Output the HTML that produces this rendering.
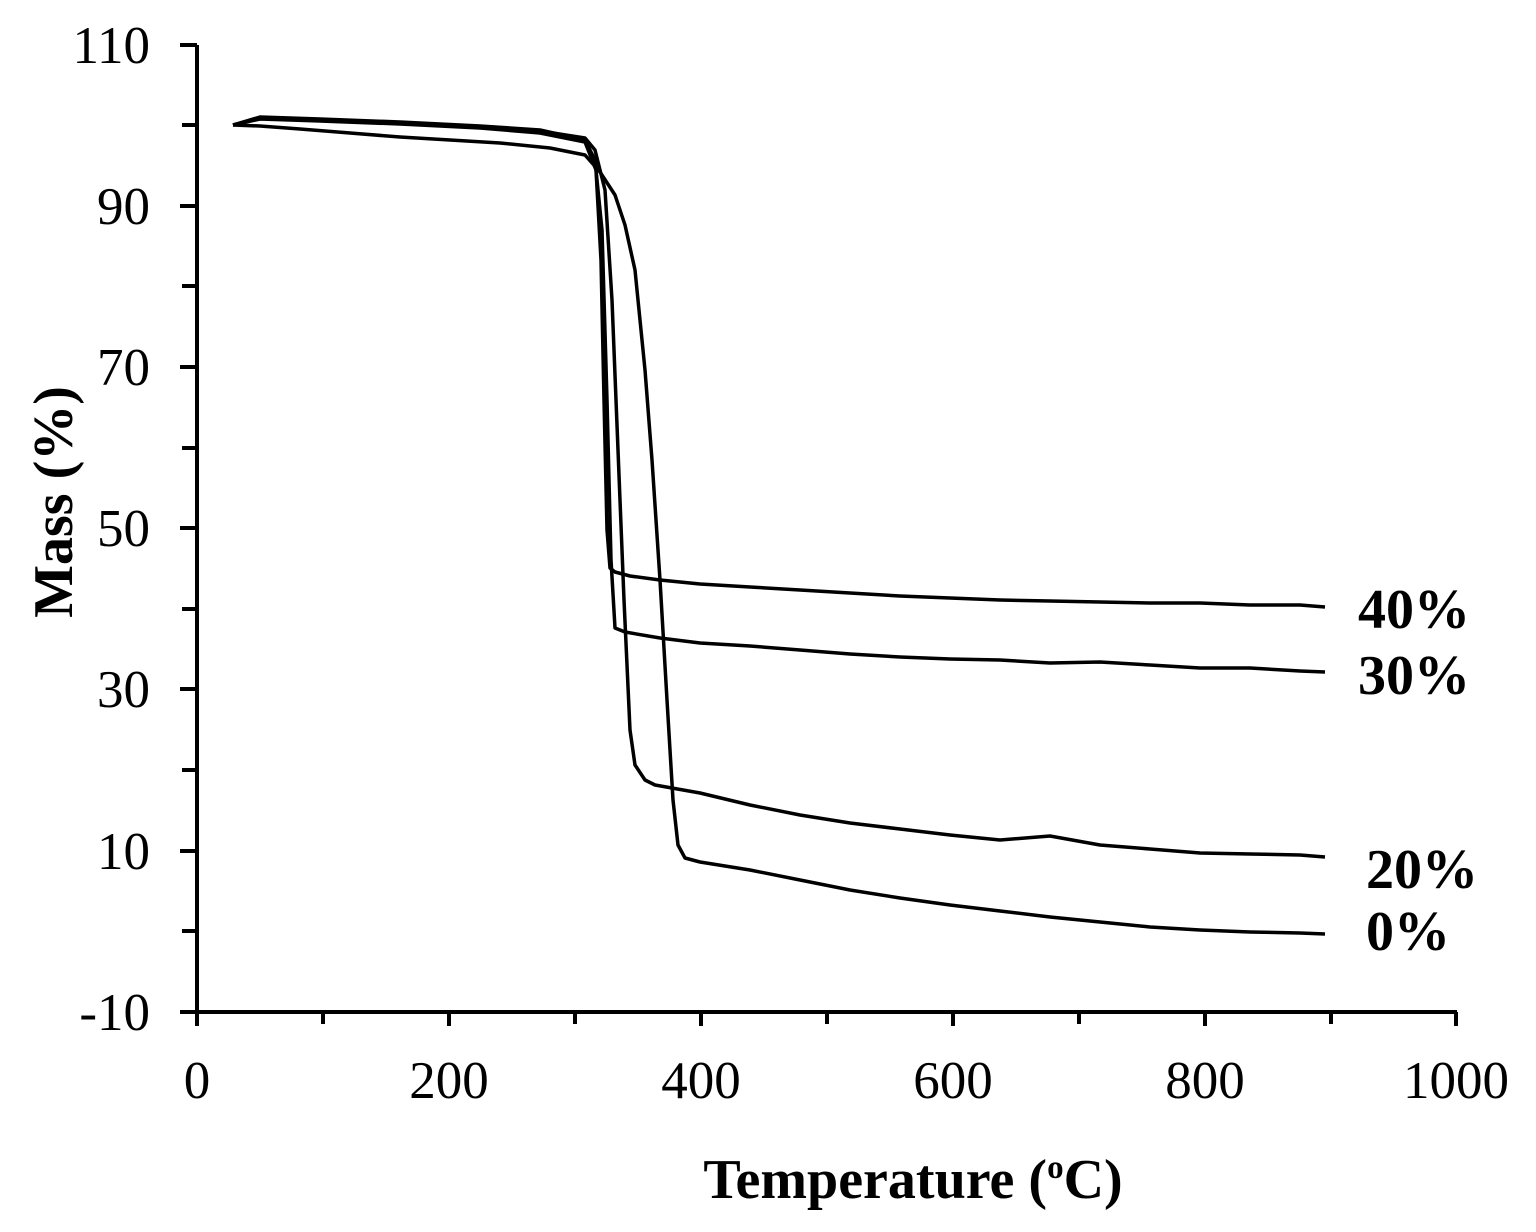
<!DOCTYPE html>
<html><head><meta charset="utf-8"><style>
html,body{margin:0;padding:0;background:#fff;}
svg text{font-family:"Liberation Serif",serif;fill:#000;}
</style></head><body>
<svg width="1536" height="1227" viewBox="0 0 1536 1227" xmlns="http://www.w3.org/2000/svg">
<g stroke="#000" stroke-width="4" fill="none">
<line x1="197" y1="45" x2="197" y2="1013"/>
<line x1="196" y1="1012" x2="1457" y2="1012"/>
<line x1="180" y1="45" x2="197" y2="45"/>
<line x1="182" y1="125" x2="197" y2="125"/>
<line x1="180" y1="206" x2="197" y2="206"/>
<line x1="182" y1="286" x2="197" y2="286"/>
<line x1="180" y1="367" x2="197" y2="367"/>
<line x1="182" y1="448" x2="197" y2="448"/>
<line x1="180" y1="528" x2="197" y2="528"/>
<line x1="182" y1="609" x2="197" y2="609"/>
<line x1="180" y1="689" x2="197" y2="689"/>
<line x1="182" y1="770" x2="197" y2="770"/>
<line x1="180" y1="851" x2="197" y2="851"/>
<line x1="182" y1="931" x2="197" y2="931"/>
<line x1="180" y1="1012" x2="197" y2="1012"/>
<line x1="197" y1="1012" x2="197" y2="1026"/>
<line x1="323" y1="1012" x2="323" y2="1024"/>
<line x1="449" y1="1012" x2="449" y2="1026"/>
<line x1="575" y1="1012" x2="575" y2="1024"/>
<line x1="701" y1="1012" x2="701" y2="1026"/>
<line x1="827" y1="1012" x2="827" y2="1024"/>
<line x1="953" y1="1012" x2="953" y2="1026"/>
<line x1="1079" y1="1012" x2="1079" y2="1024"/>
<line x1="1205" y1="1012" x2="1205" y2="1026"/>
<line x1="1331" y1="1012" x2="1331" y2="1024"/>
<line x1="1456" y1="1012" x2="1456" y2="1026"/>
</g>
<g stroke="#000" stroke-width="3.5" fill="none" stroke-linejoin="round">
<polyline points="233,125 260,126 300,129 350,133 400,137 450,140 500,143 550,148 585,155 600,172 615,195 625,225 635,270 645,370 652,460 660,580 667,700 673,800 678,845 685,858 700,862 750,870 800,880 850,890 900,898 950,905 1000,911 1050,917 1100,922 1150,927 1200,930 1250,932 1300,933 1325,934"/>
<polyline points="233,125 260,118 320,120 400,123 480,127 540,131 585,138 595,150 605,190 612,300 618,450 624,600 630,730 635,765 645,780 655,785 700,793 750,805 800,815 850,823 900,829 950,835 1000,840 1050,836 1100,845 1150,849 1200,853 1250,854 1300,855 1325,857"/>
<polyline points="233,125 260,117 320,119 400,122 480,126 540,130 585,140 595,160 602,230 607,400 611,560 615,628 625,632 660,638 700,643 750,646 800,650 850,654 900,657 950,659 1000,660 1050,663 1100,662 1150,665 1200,668 1250,668 1300,671 1325,672"/>
<polyline points="233,125 260,119 320,121 400,124 480,128 540,133 585,142 596,170 601,260 604,400 607,530 610,568 615,572 630,576 660,580 700,584 750,587 800,590 850,593 900,596 950,598 1000,600 1050,601 1100,602 1150,603 1200,603 1250,605 1300,605 1325,607"/>
</g>
<g font-size="53" text-anchor="end">
<text x="150" y="63">110</text>
<text x="150" y="224">90</text>
<text x="150" y="385">70</text>
<text x="150" y="546">50</text>
<text x="150" y="707">30</text>
<text x="150" y="869">10</text>
<text x="150" y="1030">-10</text>
</g>
<g font-size="53" text-anchor="middle">
<text x="197" y="1098">0</text>
<text x="449" y="1098">200</text>
<text x="701" y="1098">400</text>
<text x="953" y="1098">600</text>
<text x="1205" y="1098">800</text>
<text x="1456" y="1098">1000</text>
</g>
<g font-size="56" font-weight="bold">
<text x="1358" y="628">40%</text>
<text x="1358" y="694">30%</text>
<text x="1366" y="888">20%</text>
<text x="1366" y="950">0%</text>
</g>
<text x="913" y="1198" font-size="56" font-weight="bold" text-anchor="middle">Temperature (<tspan font-size="33" dy="-20">o</tspan><tspan dy="20">C)</tspan></text>
<text transform="translate(72,502) rotate(-90)" font-size="56" font-weight="bold" text-anchor="middle">Mass (%)</text>
</svg>
</body></html>
